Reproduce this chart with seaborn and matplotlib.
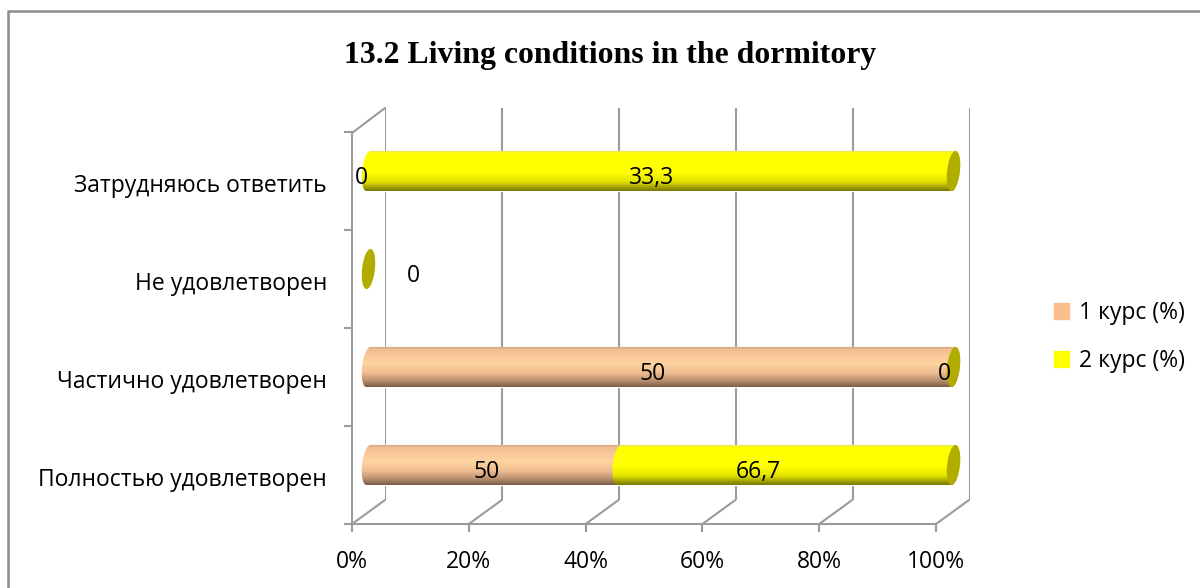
# Cylinder-style 100% stacked bars, faked in 2D with three stacked axes
import matplotlib

matplotlib.use("Agg")

import matplotlib.pyplot as plt  # noqa: E402
import numpy as np  # noqa: E402
import pandas as pd  # noqa: E402
import seaborn as sns  # noqa: E402
from matplotlib.colors import LinearSegmentedColormap  # noqa: E402
from matplotlib.lines import Line2D  # noqa: E402
from matplotlib.patches import Patch, PathPatch  # noqa: E402
from matplotlib.path import Path  # noqa: E402
from matplotlib.transforms import ScaledTranslation  # noqa: E402

categories = ["Затрудняюсь ответить", "Не удовлетворен",
              "Частично удовлетворен", "Полностью удовлетворен"]
series_1 = [0, 0, 50, 50]
series_2 = [33.3, 0, 0, 66.7]
series_names = ["1 курс (%)", "2 курс (%)"]
labels_1 = ["0", "", "50", "50"]
labels_2 = ["33,3", "0", "0", "66,7"]
pct_ticks = [0, 20, 40, 60, 80, 100]

W, H = 1200, 588
GRID = "#9b9b9b"
PEACH = "#FBBF8F"
YELLOW = "#FFFF00"
CAP = "#B0AC00"
FONT = ["Open Sans", "DejaVu Sans"]
FS = 16.5
peach_grad = LinearSegmentedColormap.from_list("p", [
    (0, "#CDA684"), (0.08, "#F2BE95"), (0.42, "#FFD49F"), (0.66, "#EEBC92"),
    (0.85, "#B98F6E"), (1, "#7A5F4C")])
yellow_grad = LinearSegmentedColormap.from_list("y", [
    (0, "#DEDE90"), (0.07, "#FFFF00"), (0.55, "#FFFF00"), (0.78, "#E2E200"),
    (0.92, "#A0A000"), (1, "#7A7A00")])

sns.set_theme(style="white")
plt.rcParams["font.family"] = FONT
plt.rcParams["text.color"] = "black"
plt.rcParams["xtick.labelcolor"] = "black"
plt.rcParams["ytick.labelcolor"] = "black"

fig = plt.figure(figsize=(W / 100, H / 100), dpi=100)


def box(left, top, right, bottom):
    # Axes position from pixels measured top-down
    return [left / W, 1 - bottom / H, (right - left) / W, (bottom - top) / H]


def fig_line(xs, ys, **kw):
    fig.add_artist(Line2D(np.array(xs) / W, 1 - np.array(ys) / H,
                          transform=fig.transFigure, **kw))


# Outer frame runs off the right and bottom of the picture
fig_line([8, 8, W], [H, 11, 11], color="#8c8c8c", lw=1.8)

# Back wall
wall = fig.add_axes(box(385, 108, 970, 500), frameon=False)
wall.set_xlim(0, 100)
wall.set_xticks(pct_ticks)
wall.tick_params(length=0, labelbottom=False, labelleft=False)
wall.set_yticks([])
wall.grid(axis="x", color=GRID, lw=1.5)
for t in pct_ticks:
    fx = 352 + t * 5.84
    fig_line([fx, fx + 33], [524, 500], color=GRID, lw=1.5)
fig_line([352, 385], [133, 108], color=GRID, lw=1.5)

# Front plane carries the axes, ticks and labels
front = fig.add_axes(box(352, 132, 936, 524), facecolor="none")
front.set_xlim(0, 100)
front.set_ylim(3.5, -0.5)
sns.despine(ax=front, top=True, right=True)
for side in ["left", "bottom"]:
    front.spines[side].set_color(GRID)
    front.spines[side].set_linewidth(1.5)
front.set_xticks(pct_ticks)
front.set_xticklabels([f"{t}%" for t in pct_ticks], fontsize=FS)
front.set_yticks(range(len(categories)))
front.set_yticklabels(categories, fontsize=FS)
front.set_yticks(np.arange(-0.5, 4), minor=True)
front.tick_params(axis="y", which="major", length=0, pad=18)
front.tick_params(axis="y", which="minor", left=True, length=6, width=1.5, color=GRID)
front.tick_params(axis="x", bottom=True, length=6, width=1.5, color=GRID, pad=13)
for lab in front.get_yticklabels():
    lab.set_transform(lab.get_transform() + ScaledTranslation(0, -2 / 100, fig.dpi_scale_trans))

# 100% stacked shares, rows with nothing in them stay at 0
df = pd.DataFrame({"cat": categories, "s1": series_1, "s2": series_2})
total = (df["s1"] + df["s2"]).replace(0, np.nan)
df["p1"] = (df["s1"] / total * 100).fillna(0)
df["p2"] = (df["s2"] / total * 100).fillna(0)

# Axes padded by 3 units each side so the round ends are not cut off
bars = fig.add_axes(box(368.5 - 17.55, 122, 953.5 + 17.55, 514), frameon=False)
sns.barplot(data=df, y="cat", x="p1", order=categories, color=PEACH, width=0.41,
            saturation=1, ax=bars, zorder=2)
sns.barplot(data=df, y="cat", x="p2", order=categories, color=YELLOW, width=0.41,
            saturation=1, ax=bars, left=df["p1"].to_numpy(), zorder=2)
bars.set(xlabel="", ylabel="", xticks=[], yticks=[])

A = 1.1    # half width of the end ellipse, in x data units
B = 0.205  # half height, in rows
S = 0.35   # lean of the ellipse


def arc(cx, cy, t0, t1):
    t = np.radians(np.linspace(t0, t1, 40))
    return np.column_stack([cx + A * np.cos(t) - S * np.sin(t), cy + B * np.sin(t)])


def cylinder(x0, x1, row, cmap):
    pts = np.vstack([arc(x0, row, 90, 270), arc(x1, row, 270, 450)])
    clip = PathPatch(Path(np.vstack([pts, pts[:1]]), closed=True),
                     transform=bars.transData, fc="none", ec="none")
    bars.add_patch(clip)
    grad = np.linspace(0, 1, 60).reshape(-1, 1)
    im = bars.imshow(grad, cmap=cmap, aspect="auto", interpolation="bilinear",
                     extent=(x0 - 3, x1 + 3, row + B, row - B), zorder=3)
    im.set_clip_path(clip)


for i in range(len(categories)):
    p1, p2 = df["p1"][i], df["p2"][i]
    if p1 > 0:
        cylinder(0, p1, i, peach_grad)
    if p2 > 0:
        cylinder(p1, p1 + p2, i, yellow_grad)
    # The zero-length second series still shows its end cap
    cap = arc(p1 + p2, i, 0, 360)
    bars.fill(cap[:, 0], cap[:, 1], color=CAP, lw=0, zorder=4)
bars.set_xlim(-3, 103)
bars.set_ylim(3.5, -0.5)

# Label nudges in pixels, the original placed them by hand
shift_1 = [(-7, 7), (0, 0), (-8, 7), (-7, 7)]
shift_2 = [(-9, 7), (45, 7), (-9, 7), (-28, 7)]
for i in range(len(categories)):
    p1, p2 = df["p1"][i], df["p2"][i]
    for txt, mid, (dx, dy) in [(labels_1[i], p1 / 2, shift_1[i]),
                               (labels_2[i], p1 + p2 / 2, shift_2[i])]:
        if txt:
            bars.annotate(txt, (mid, i), xytext=(dx * 0.72, -dy * 0.72),
                          textcoords="offset points", ha="center", va="center",
                          fontsize=FS, zorder=6)

fig.text(610 / W, 1 - 55 / H, "13.2 Living conditions in the dormitory", ha="center", va="center",
         family=["Liberation Serif", "DejaVu Serif"], fontweight="bold", fontsize=22.9)

handles = [Patch(color=PEACH, label=series_names[0]), Patch(color=YELLOW, label=series_names[1])]
fig.legend(handles=handles, loc="center left", bbox_to_anchor=(1054 / W, 1 - 337 / H),
           frameon=False, fontsize=FS, handlelength=0.655, handleheight=0.655,
           handletextpad=0.45, labelspacing=1.05, borderpad=0, borderaxespad=0)

fig.savefig("out.png", dpi=100)
